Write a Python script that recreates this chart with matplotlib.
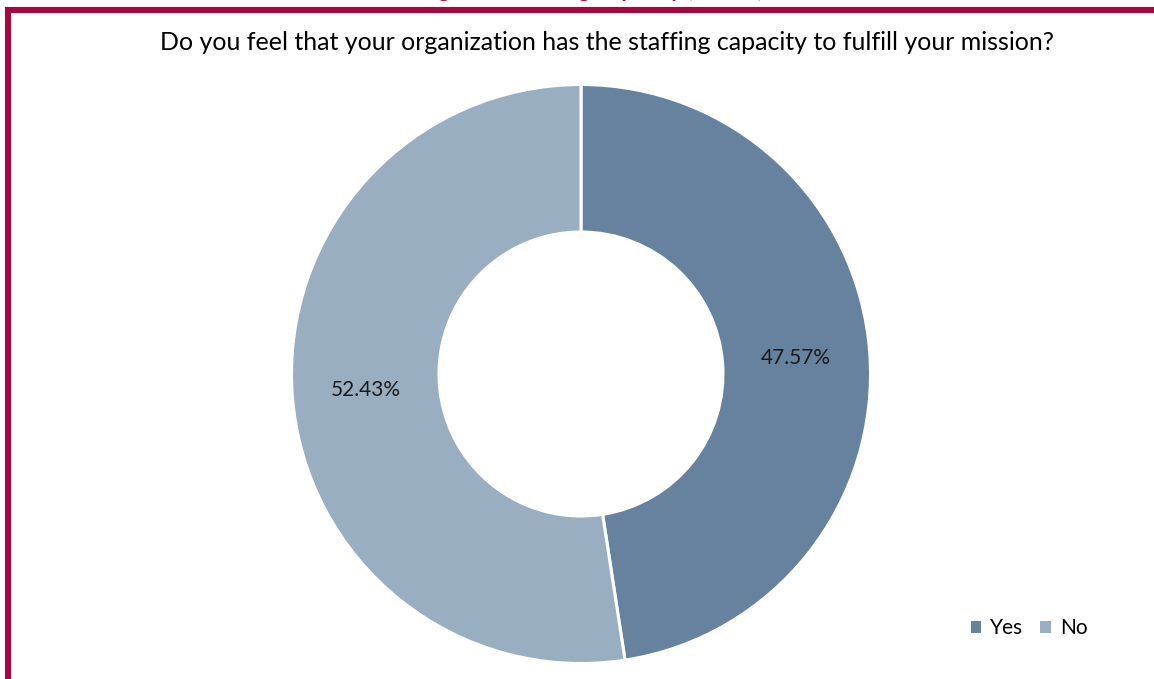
import matplotlib
matplotlib.use("Agg")
import matplotlib.pyplot as plt
from matplotlib.lines import Line2D

# Survey result: staffing capacity
categories = ["Yes", "No"]
shares = [47.57, 52.43]
colors = ["#67829F", "#9AAEC1"]

question = "Do you feel that your organization has the staffing capacity to fulfill your mission?"
figure_title = "Figure 6: Staffing Capacity (n=103)"

W, H = 1154, 679
fig = plt.figure(figsize=(W / 100, H / 100), dpi=100)
ax = fig.add_axes([0, 0, 1, 1])

font = "Lato"
outer_r = 289.5
inner_r = 142.0
cx, cy = 581, H - 374

wedges, _, autotexts = ax.pie(
    shares,
    colors=colors,
    startangle=90,
    counterclock=False,
    center=(cx, cy),
    radius=outer_r,
    autopct=lambda p: f"{p:.2f}%",
    pctdistance=(outer_r + inner_r) / 2 / outer_r,
    wedgeprops=dict(width=outer_r - inner_r, edgecolor="white", linewidth=2.2),
    textprops=dict(fontsize=15, family=font, color="#1a1a1a"),
    frame=True,
)
ax.set_xlim(0, W)
ax.set_ylim(0, H)
ax.set_aspect("equal")
ax.axis("off")

# Question heading
fig.text(607 / W, 1 - 42 / H, question, ha="center", va="center",
         fontsize=18, family=font, color="black")

# Frame of the figure block
frame_color = "#A2093F"
fig.add_artist(Line2D([5 / W, 1.0], [1 - 10 / H, 1 - 10 / H], color=frame_color,
                      linewidth=4.4, transform=fig.transFigure, solid_capstyle="butt"))
fig.add_artist(Line2D([8 / W, 8 / W], [1 - 7 / H, 0.0], color=frame_color,
                      linewidth=4.4, transform=fig.transFigure, solid_capstyle="butt"))

# Figure caption sitting above the frame, running off the top of the canvas
fig.text(592 / W, 1 + 3 / H, figure_title, ha="center", va="baseline",
         fontsize=16, family=font, weight="bold", color=frame_color)

# Legend
leg = fig.legend(wedges, categories, loc="center", bbox_to_anchor=(1029 / W, 1 - 628 / H),
                 ncol=2, frameon=False, handlelength=0.5, handleheight=0.5,
                 handletextpad=0.45, columnspacing=0.8,
                 prop=dict(family=font, size=15))
for h in leg.legend_handles:
    h.set_edgecolor("none")

fig.savefig("out.png", dpi=100, facecolor="white")
